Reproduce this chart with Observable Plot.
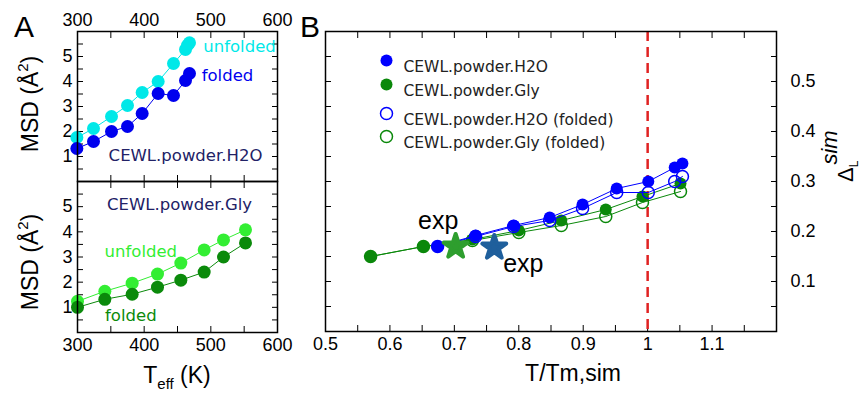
<!DOCTYPE html>
<html><head><meta charset="utf-8">
<script src="https://cdn.jsdelivr.net/npm/d3@7"></script>
<script src="https://cdn.jsdelivr.net/npm/@observablehq/plot@0.6"></script>
<style>
body{margin:0;background:#fff;}
#wrap{position:relative;width:863px;height:394px;overflow:hidden;background:#fff;}
#wrap svg{position:absolute;}
</style></head><body><div id="wrap"></div>
<script>
// ---------- Panel A data ----------
const h2oUnfoldedT   = [299, 324, 351, 375, 397, 421, 444, 462, 465, 468];
const h2oUnfoldedMSD = [1.76, 2.12, 2.60, 3.04, 3.56, 4.00, 4.72, 5.28, 5.45, 5.55];
const h2oFoldedT     = [299, 324, 351, 375, 397, 421, 444, 462, 468];
const h2oFoldedMSD   = [1.32, 1.60, 2.00, 2.20, 2.72, 3.52, 3.44, 4.04, 4.32];
const glyT           = [300, 341, 382, 420, 455, 490, 519, 552];
const glyUnfoldedMSD = [1.24, 1.64, 1.96, 2.32, 2.76, 3.28, 3.68, 4.08];
const glyFoldedMSD   = [1.00, 1.32, 1.52, 1.80, 2.08, 2.40, 3.00, 3.56];
const aTempTicks = [300, 400, 500, 600];
const aMsdTicks  = [1, 2, 3, 4, 5];

// ---------- Panel B data ----------
const bH2oX        = [0.674, 0.733, 0.792, 0.848, 0.899, 0.952, 1.001, 1.042, 1.054];
const bH2oY        = [0.170, 0.192, 0.212, 0.228, 0.254, 0.286, 0.300, 0.328, 0.336];
const bH2oFoldedY  = [0.170, 0.190, 0.210, 0.222, 0.246, 0.278, 0.278, 0.300, 0.310];
const bGlyX        = [0.570, 0.652, 0.728, 0.800, 0.866, 0.935, 0.992, 1.051];
const bGlyY        = [0.150, 0.170, 0.184, 0.202, 0.222, 0.244, 0.270, 0.296];
const bGlyFoldedY  = [0.150, 0.170, 0.182, 0.198, 0.212, 0.230, 0.258, 0.280];
const expX = [0.702, 0.762];
const expY = [0.170, 0.168];
const tmLine = [1];
const bXTicks = [0.5, 0.6, 0.7, 0.8, 0.9, 1.0, 1.1];
const bYTicks = [0.1, 0.2, 0.3, 0.4, 0.5];
const legendLabels = ["CEWL.powder.H2O", "CEWL.powder.Gly", "CEWL.powder.H2O (folded)", "CEWL.powder.Gly (folded)"];

// ---------- styles ----------
const FONT = "'Liberation Sans', Arial, Helvetica, sans-serif";
const LFONT = "'DejaVu Sans', Verdana, sans-serif";
const CYAN = "#00e8e8", BLUEA = "#0000ee", LIME = "#33ee33", DKGREEN = "#0b8a0b", NAVY = "#222266";
const BBLUE = "#0000ff", BGREEN = "#0a880a", STARG = "#2e9e2e", STARB = "#1f5f9c";
const baseStyle = {fontFamily: FONT, fontSize: "18px", background: "none", overflow: "visible", color: "#000"};

const zip = (xs, ys) => xs.map((x, i) => ({x, y: ys[i]}));
const range = (a, b, s) => { const n = Math.round((b - a) / s); return Array.from({length: n + 1}, (_, i) => a + i * s); };
const blank = () => "";

function frameTicks(xt, yt) {
  return [
    Plot.axisX(xt, {anchor: "top", tickSize: 6, dy: 6, tickFormat: blank, label: null}),
    Plot.axisX(xt, {anchor: "bottom", tickSize: 6, dy: -6, tickFormat: blank, label: null}),
    Plot.axisY(yt, {anchor: "left", tickSize: 6, dx: 6, tickFormat: blank, label: null}),
    Plot.axisY(yt, {anchor: "right", tickSize: 6, dx: -6, tickFormat: blank, label: null})
  ];
}

const wrapEl = document.getElementById("wrap");
function place(svg, left, top) { svg.style.left = left + "px"; svg.style.top = top + "px"; wrapEl.appendChild(svg); }

// ---------- Panel A top ----------
const h2oU = zip(h2oUnfoldedT, h2oUnfoldedMSD), h2oF = zip(h2oFoldedT, h2oFoldedMSD);
const aTop = Plot.plot({
  width: 290, height: 182, marginLeft: 77, marginRight: 13, marginTop: 31, marginBottom: 1,
  x: {domain: [300, 600]}, y: {domain: [0, 6]}, style: baseStyle,
  marks: [
    ...frameTicks(range(300, 600, 50), range(0, 6, 0.5)),
    Plot.axisX(aTempTicks, {anchor: "top", tickSize: 0, tickPadding: 6, fontSize: 18, label: null}),
    Plot.axisY(aMsdTicks, {anchor: "left", tickSize: 0, tickPadding: 5, fontSize: 18, label: null}),
    Plot.line(h2oU, {x: "x", y: "y", stroke: CYAN, strokeWidth: 1}),
    Plot.dot(h2oU, {x: "x", y: "y", r: 6.5, fill: CYAN}),
    Plot.line(h2oF, {x: "x", y: "y", stroke: BLUEA, strokeWidth: 1}),
    Plot.dot(h2oF, {x: "x", y: "y", r: 6.5, fill: BLUEA}),
    Plot.text([{x: 543, y: 5.4, t: "unfolded"}], {x: "x", y: "y", text: "t", fill: CYAN, fontSize: 16.5, fontFamily: LFONT}),
    Plot.text([{x: 525, y: 4.24, t: "folded"}], {x: "x", y: "y", text: "t", fill: BLUEA, fontSize: 16.5, fontFamily: LFONT}),
    Plot.text([{x: 462, y: 1.04, t: "CEWL.powder.H2O"}], {x: "x", y: "y", text: "t", fill: NAVY, fontSize: 16.5, fontFamily: LFONT}),
    Plot.frame({stroke: "#000", strokeWidth: 1.5})
  ]
});
place(aTop, 0, 0);

// ---------- Panel A bottom ----------
const glyU = zip(glyT, glyUnfoldedMSD), glyF = zip(glyT, glyFoldedMSD);
const aBot = Plot.plot({
  width: 290, height: 214, marginLeft: 77, marginRight: 13, marginTop: 1, marginBottom: 62,
  x: {domain: [300, 600]}, y: {domain: [0, 6]}, style: baseStyle,
  marks: [
    ...frameTicks(range(300, 600, 50), range(0, 6, 0.5)),
    Plot.axisX(aTempTicks, {anchor: "bottom", tickSize: 0, tickPadding: 6, fontSize: 18, label: null}),
    Plot.axisY(aMsdTicks, {anchor: "left", tickSize: 0, tickPadding: 5, fontSize: 18, label: null}),
    Plot.line(glyU, {x: "x", y: "y", stroke: LIME, strokeWidth: 1}),
    Plot.dot(glyU, {x: "x", y: "y", r: 6.5, fill: LIME}),
    Plot.line(glyF, {x: "x", y: "y", stroke: DKGREEN, strokeWidth: 1}),
    Plot.dot(glyF, {x: "x", y: "y", r: 6.5, fill: DKGREEN}),
    Plot.text([{x: 453, y: 5.08, t: "CEWL.powder.Gly"}], {x: "x", y: "y", text: "t", fill: NAVY, fontSize: 16.5, fontFamily: LFONT}),
    Plot.text([{x: 395, y: 3.2, t: "unfolded"}], {x: "x", y: "y", text: "t", fill: LIME, fontSize: 16.5, fontFamily: LFONT}),
    Plot.text([{x: 380, y: 0.68, t: "folded"}], {x: "x", y: "y", text: "t", fill: DKGREEN, fontSize: 16.5, fontFamily: LFONT}),
    Plot.frame({stroke: "#000", strokeWidth: 1.5})
  ]
});
place(aBot, 0, 180);

// ---------- Panel B ----------
const bH = zip(bH2oX, bH2oY), bHF = zip(bH2oX, bH2oFoldedY);
const bG = zip(bGlyX, bGlyY), bGF = zip(bGlyX, bGlyFoldedY);
const stars = zip(expX, expY).map((d, i) => ({...d, c: [STARG, STARB][i]}));
const rowDy = [29, 53, 82, 105];
const legendMarks = legendLabels.flatMap((lab, i) => {
  const col = i % 2 === 0 ? BBLUE : BGREEN;
  const filled = i < 2;
  return [
    Plot.dot([lab], {frameAnchor: "top-left", dx: 61, dy: rowDy[i], r: 6,
      fill: filled ? col : "none", stroke: filled ? "none" : col, strokeWidth: 1.5}),
    Plot.text([lab], {frameAnchor: "top-left", dx: 78, dy: rowDy[i], text: d => d, textAnchor: "start",
      fontSize: 15.5, fontFamily: LFONT, fill: "#222"})
  ];
});
const pB = Plot.plot({
  width: 573, height: 394, marginLeft: 35, marginRight: 87, marginTop: 31, marginBottom: 63,
  x: {domain: [0.5, 1.2]}, y: {domain: [0, 0.6]}, style: baseStyle,
  marks: [
    ...frameTicks(range(0.5, 1.2, 0.05), range(0, 0.6, 0.05)),
    Plot.axisX(bXTicks, {anchor: "bottom", tickSize: 0, tickPadding: 6, fontSize: 18, tickFormat: d3.format("~g"), label: null}),
    Plot.axisY(bYTicks, {anchor: "right", tickSize: 0, tickPadding: 14, fontSize: 18, tickFormat: d3.format("~g"), label: null}),
    Plot.ruleX(tmLine, {stroke: "#e02222", strokeWidth: 2.5, strokeDasharray: "10,6"}),
    Plot.line(bGF, {x: "x", y: "y", stroke: BGREEN, strokeWidth: 1}),
    Plot.dot(bGF, {x: "x", y: "y", r: 6, fill: "none", stroke: BGREEN, strokeWidth: 1.5}),
    Plot.line(bG, {x: "x", y: "y", stroke: BGREEN, strokeWidth: 1}),
    Plot.dot(bG, {x: "x", y: "y", r: 6, fill: BGREEN}),
    Plot.line(bHF, {x: "x", y: "y", stroke: BBLUE, strokeWidth: 1}),
    Plot.dot(bHF, {x: "x", y: "y", r: 6, fill: "none", stroke: BBLUE, strokeWidth: 1.5}),
    Plot.line(bH, {x: "x", y: "y", stroke: BBLUE, strokeWidth: 1}),
    Plot.dot(bH, {x: "x", y: "y", r: 6, fill: BBLUE}),
    Plot.dot(stars, {x: "x", y: "y", symbol: "star", r: 7.5, fill: "c", stroke: "c", strokeWidth: 4, strokeLinejoin: "round"}),
    Plot.text([{x: 0.675, y: 0.222, t: "exp"}, {x: 0.807, y: 0.136, t: "exp"}], {x: "x", y: "y", text: "t", fontSize: 25, fill: "#000"}),
    ...legendMarks,
    Plot.text(["T/Tm,sim"], {frameAnchor: "bottom", dx: 22, dy: 49, text: d => d, fontSize: 23, fill: "#000"}),
    Plot.frame({stroke: "#000", strokeWidth: 1.5})
  ]
});
place(pB, 290, 0);

// ---------- rich-text labels ----------
function msdLabel(svg, cx, cy) {
  const t = d3.select(svg).append("text").attr("transform", `translate(${cx},${cy}) rotate(-90)`)
    .attr("text-anchor", "middle").attr("font-family", FONT).attr("font-size", 23).attr("fill", "#000");
  t.append("tspan").text("MSD (Å");
  t.append("tspan").attr("dy", -10).attr("font-size", 15).text("2");
  t.append("tspan").attr("dy", 10).text(")");
}
d3.select(aTop).append("text").attr("x", 14).attr("y", 37).attr("text-anchor", "start").attr("font-family", FONT).attr("font-size", 30).attr("fill", "#000").text("A");
msdLabel(aTop, 38, 104);
msdLabel(aBot, 38, 82);
{
  const t = d3.select(aBot).append("text").attr("x", 177).attr("y", 203).attr("text-anchor", "middle")
    .attr("font-family", FONT).attr("font-size", 23).attr("fill", "#000");
  t.append("tspan").text("T");
  t.append("tspan").attr("dy", 6).attr("font-size", 15).text("eff");
  t.append("tspan").attr("dy", -6).text(" (K)");
}
d3.select(pB).append("text").attr("x", 10).attr("y", 37).attr("text-anchor", "start").attr("font-family", FONT).attr("font-size", 30).attr("fill", "#000").text("B");
{
  const t = d3.select(pB).append("text").attr("transform", `translate(563,182) rotate(-90)`)
    .attr("text-anchor", "start").attr("font-family", FONT).attr("font-size", 22).attr("fill", "#000");
  t.append("tspan").text("Δ");
  t.append("tspan").attr("dy", 5).attr("font-size", 12).text("L");
  t.append("tspan").attr("dy", -21).attr("dx", -4).attr("font-style", "italic").text("sim");
}
</script>
</body></html>
